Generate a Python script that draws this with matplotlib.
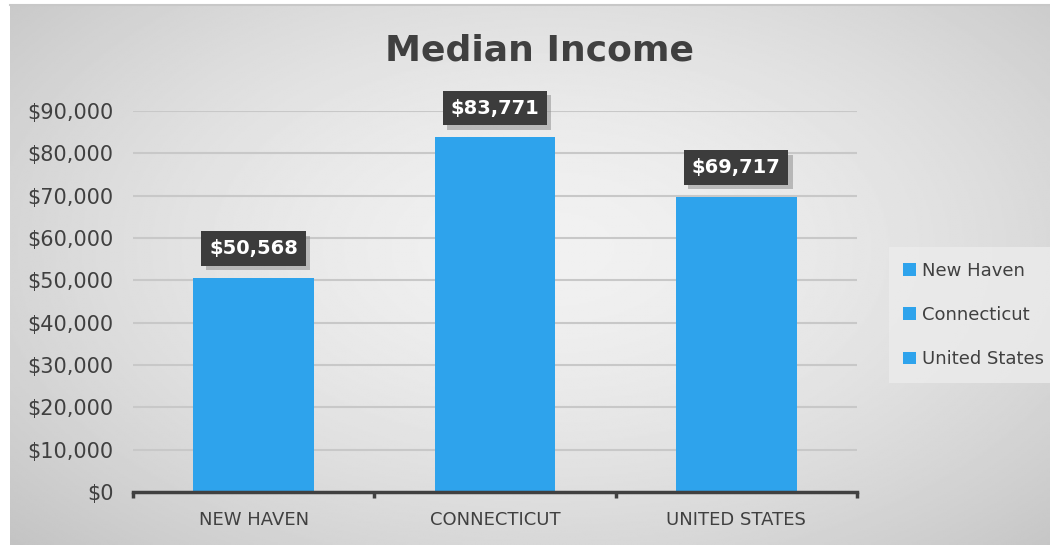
import numpy as np
import matplotlib.pyplot as plt
from matplotlib.patches import Rectangle
import matplotlib.patheffects as pe

# данные
categories = ['New Haven', 'Connecticut', 'United States']
incomes = [50568, 83771, 69717]
tick_labels = ['NEW HAVEN', 'CONNECTICUT', 'UNITED STATES']
yticks = list(range(0, 90001, 10000))

bar_color = '#2ea3ec'
text_color = '#404040'

plt.rcParams['font.family'] = ['DejaVu Sans']

fig = plt.figure(figsize=(10.5, 5.45), dpi=100)

# фон с радиальным градиентом
bg = fig.add_axes([10 / 1050, 0, 1 - 10 / 1050, 1 - 5 / 545])
yy, xx = np.mgrid[0:1:300j, 0:1:600j]
r = np.sqrt(((xx - 0.52) / 0.72) ** 2 + ((yy - 0.45) / 0.8) ** 2)
shade = 0.945 - 0.18 * np.clip(r, 0, 1) ** 1.6
bg.imshow(shade, cmap='gray', vmin=0, vmax=1, aspect='auto', extent=[0, 1, 0, 1])
bg.axis('off')
fig.add_artist(plt.Line2D([10 / 1050, 1], [1 - 5 / 545] * 2, color='#c8c8c8', lw=1.5))

ax = fig.add_axes([133 / 1050, 1 - 492 / 545, (857 - 133) / 1050, (492 - 111) / 545])
ax.set_facecolor('none')
x = np.arange(len(categories))
bars = ax.bar(x, incomes, width=0.5, color=bar_color, zorder=3)

ax.set_xlim(-0.5, len(categories) - 0.5)
ax.set_ylim(0, 90000)
ax.set_yticks(yticks)
ax.set_yticklabels(['${:,}'.format(v) for v in yticks], fontsize=15, color=text_color)
ax.set_xticks(x)
ax.set_xticklabels(tick_labels, fontsize=13, color=text_color)
ax.tick_params(axis='y', length=0, pad=14)
ax.tick_params(axis='x', length=0, pad=14)
for v in yticks[1:]:
    ax.axhline(v, color='#c8c8c8', lw=1.5, zorder=1)
for s in ['top', 'right', 'left']:
    ax.spines[s].set_visible(False)
ax.spines['bottom'].set_color(text_color)
ax.spines['bottom'].set_linewidth(2.5)
ax.spines['bottom'].set_zorder(4)
# засечки между категориями
for b in np.arange(-0.5, len(categories), 1.0):
    ax.plot([b, b], [0, -1300], color=text_color, lw=2.5, clip_on=False, zorder=4,
            solid_capstyle='butt')

# подписи значений
for xi, v in zip(x, incomes):
    ax.annotate('${:,}'.format(v), (xi, v), xytext=(0, 21), textcoords='offset points',
                ha='center', va='center', fontsize=14, fontweight='bold', color='white',
                zorder=6,
                bbox=dict(boxstyle='square,pad=0.4', fc='#3c3c3c', ec='none',
                          path_effects=[pe.withSimplePatchShadow(offset=(3, -3),
                                                                 shadow_rgbFace='#888888',
                                                                 alpha=0.5)]))

fig.text(0.514, 0.908, 'Median Income', ha='center', va='center', fontsize=26,
         fontweight='bold', color=text_color)

# легенда
handles = [Rectangle((0, 0), 1, 1, fc=bar_color, ec='none') for _ in categories]
leg = fig.legend(handles, categories, loc='center left', bbox_to_anchor=(880 / 1050, 1 - 315 / 545),
                 frameon=True, fontsize=13, labelcolor=text_color, handlelength=0.7,
                 handleheight=0.7, handletextpad=0.3, labelspacing=1.45, borderpad=0.8,
                 fancybox=False)
leg.get_frame().set_facecolor('#ececec')
leg.get_frame().set_edgecolor('none')
leg.get_frame().set_alpha(0.8)

fig.savefig('out.png', dpi=100)
